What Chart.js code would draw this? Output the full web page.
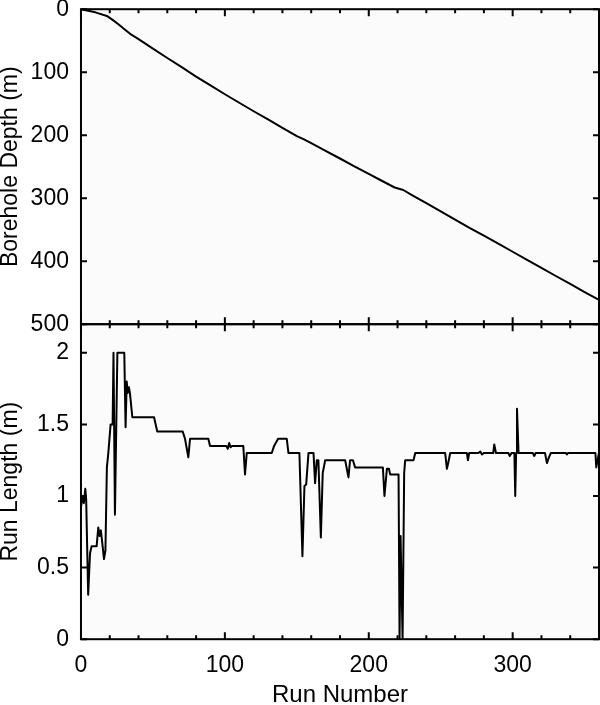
<!DOCTYPE html>
<html>
<head>
<meta charset="utf-8">
<script src="https://cdn.jsdelivr.net/npm/chart.js@4/dist/chart.umd.min.js"></script>
<style>
  html, body { margin: 0; padding: 0; background: #ffffff; }
  canvas { display: block; }
</style>
</head>
<body>
<canvas id="c" width="600" height="705"></canvas>
<script>
// ---- Data ----
// Top panel: borehole depth (m) versus run number
const depthRuns   = [0, 10, 18, 22, 26, 30, 35, 40, 50, 60, 70, 80, 90, 100, 110, 120, 130, 140, 150, 155, 160, 170, 180, 190, 200, 210, 218, 224, 230, 240, 250, 260, 270, 280, 290, 300, 310, 320, 330, 340, 350, 360];
const depthValues = [0, 5, 10.7, 17, 24, 31.5, 40.5, 47.5, 62.5, 77.5, 92, 107, 121, 135, 148.5, 162, 175, 188.5, 201.5, 206.5, 212.5, 225, 237, 249.5, 261.5, 273.5, 283, 287, 295, 308, 321, 334, 347, 359.5, 372, 385, 398, 410.5, 423.5, 436, 449, 461.5];

// Bottom panel: run length (m) versus run number
const lengthRuns = [0, 1, 2, 3, 3.6, 5, 6.3, 7.4, 10.9, 12, 13, 13.8, 14.5, 16, 17, 18, 19, 20.6, 22, 22.6, 23.6, 25.3, 30.1, 31, 31.8, 32.5, 33.3, 34, 35.7, 50.8, 53, 70.7, 72.3, 74.6, 75.8, 88.5, 89.7, 101, 102, 103, 104, 105, 112.8, 114, 115.2, 132.6, 134.2, 137, 143, 144.2, 151.8, 153.9, 155.3, 156.5, 158.1, 161.6, 162.7, 163.9, 165, 166.7, 168, 169.7, 183.6, 185.9, 187, 189, 190.5, 209.8, 210.9, 212.6, 214, 214.9, 220.7, 221.4, 222.1, 223.5, 224.6, 225.3, 231.1, 232.3, 253.1, 254.3, 255.2, 256.6, 268.2, 268.9, 269.8, 276, 277.5, 278.7, 280, 286.5, 287.2, 288.4, 297, 298, 299.2, 301.2, 301.8, 302.4, 303, 304.1, 314, 315, 316, 322.5, 323.8, 325.2, 326.5, 337, 337.7, 338.4, 357.5, 358.1, 359, 360];
const lengthValues = [0.92, 1.0, 0.95, 1.05, 0.98, 0.31, 0.6, 0.65, 0.65, 0.78, 0.72, 0.76, 0.7, 0.56, 0.62, 1.2, 1.3, 1.5, 1.5, 2.0, 0.87, 2.0, 2.0, 1.48, 1.8, 1.72, 1.76, 1.72, 1.55, 1.55, 1.45, 1.45, 1.4, 1.27, 1.4, 1.4, 1.35, 1.35, 1.33, 1.37, 1.34, 1.35, 1.35, 1.15, 1.3, 1.3, 1.35, 1.4, 1.4, 1.3, 1.3, 0.58, 1.07, 1.08, 1.3, 1.3, 1.09, 1.25, 1.25, 0.71, 1.16, 1.25, 1.25, 1.13, 1.25, 1.25, 1.2, 1.2, 1.0, 1.19, 1.19, 1.15, 1.15, 0, 0.72, 0, 1.16, 1.25, 1.25, 1.3, 1.3, 1.19, 1.23, 1.3, 1.3, 1.25, 1.3, 1.3, 1.31, 1.29, 1.3, 1.3, 1.36, 1.3, 1.3, 1.28, 1.3, 1.3, 1.0, 1.3, 1.61, 1.3, 1.3, 1.28, 1.3, 1.3, 1.23, 1.27, 1.3, 1.3, 1.29, 1.3, 1.3, 1.2, 1.25, 1.3];

// Axis settings / labels
const xRange = [0, 360];
const depthRange = [0, 500];
const lengthRange = [0, 2.2];
const xLabelStep = 100;
const xTickStep = 20;
const depthStep = 100;
const lengthStep = 0.5;
const xTitle = 'Run Number';
const depthTitle = 'Borehole Depth (m)';
const lengthTitle = 'Run Length (m)';

// ---- Chart ----
const FONT = 'Liberation Sans, Arial, Helvetica, sans-serif';
const PLOT_BG = '#fbfbfb';

const framePlugin = {
  id: 'frameTicks',
  beforeDraw(chart) {
    const ctx = chart.ctx, a = chart.chartArea;
    ctx.save();
    ctx.fillStyle = PLOT_BG;
    ctx.fillRect(a.left, a.top, a.right - a.left, a.bottom - a.top);
    ctx.restore();
  },
  afterDatasetsDraw(chart) {
    const ctx = chart.ctx, a = chart.chartArea, xs = chart.scales.x;
    ctx.save();
    ctx.strokeStyle = '#000';
    ctx.lineWidth = 2;
    ctx.lineCap = 'butt';
    for (const id of ['yD', 'yL']) {
      const s = chart.scales[id];
      ctx.beginPath();
      for (const t of s.ticks) {
        const py = s.getPixelForValue(t.value);
        ctx.moveTo(a.left, py); ctx.lineTo(a.left + 6, py);
        ctx.moveTo(a.right, py); ctx.lineTo(a.right - 6, py);
      }
      for (const t of xs.ticks) {
        const px = xs.getPixelForValue(t.value);
        const len = (t.value % xLabelStep === 0) ? 7 : 4;
        ctx.moveTo(px, s.top); ctx.lineTo(px, s.top + len);
        ctx.moveTo(px, s.bottom); ctx.lineTo(px, s.bottom - len);
      }
      ctx.stroke();
      ctx.strokeRect(a.left, s.top, a.right - a.left, s.bottom - s.top);
    }
    ctx.restore();
  }
};

const yCommon = {
  type: 'linear',
  position: 'left',
  stack: 'panels',
  stackWeight: 1,
  offset: false,
  border: { display: false },
  grid: { drawOnChartArea: false, drawTicks: true, tickLength: 12, tickColor: 'rgba(0,0,0,0)' },
};
const tickFont = { family: FONT, size: 23, lineHeight: 0.8 };
const yTitleFont = { family: FONT, size: 23, lineHeight: 1.2 };

new Chart(document.getElementById('c'), {
  type: 'line',
  data: {
    datasets: [
      {
        label: 'depth',
        data: depthRuns.map((r, i) => ({ x: r, y: depthValues[i] })),
        xAxisID: 'x', yAxisID: 'yD',
        borderColor: '#000', borderWidth: 2, pointRadius: 0, tension: 0, fill: false,
        borderJoinStyle: 'round'
      },
      {
        label: 'length',
        data: lengthRuns.map((r, i) => ({ x: r, y: lengthValues[i] })),
        xAxisID: 'x', yAxisID: 'yL',
        borderColor: '#000', borderWidth: 2, pointRadius: 0, tension: 0, fill: false,
        borderJoinStyle: 'round'
      }
    ]
  },
  options: {
    responsive: false,
    animation: false,
    events: [],
    layout: { padding: { left: 0, right: 1, top: 0, bottom: 0 } },
    plugins: { legend: { display: false }, tooltip: { enabled: false }, title: { display: false } },
    scales: {
      x: {
        type: 'linear',
        min: xRange[0], max: xRange[1],
        border: { display: false },
        grid: { drawOnChartArea: false, drawTicks: true, tickLength: 13, tickColor: 'rgba(0,0,0,0)' },
        ticks: {
          stepSize: xTickStep, autoSkip: false, maxRotation: 0, padding: 0,
          color: '#000', font: { family: FONT, size: 23, lineHeight: 1.2 },
          callback: (v) => (v % xLabelStep === 0 ? String(v) : '')
        },
        title: { display: true, text: xTitle, color: '#000', font: { family: FONT, size: 24, lineHeight: 0.8 }, padding: { top: 6, bottom: 0 } }
      },
      yL: Object.assign({}, yCommon, {
        min: lengthRange[0], max: lengthRange[1],
        ticks: { stepSize: lengthStep, includeBounds: false, padding: 0, color: '#000', font: tickFont,
                 callback: (v) => String(parseFloat(Number(v).toFixed(2))) },
        title: { display: true, text: lengthTitle, color: '#000', font: yTitleFont, padding: { top: -2.8, bottom: 5.8 } }
      }),
      yD: Object.assign({}, yCommon, {
        min: depthRange[0], max: depthRange[1], reverse: true,
        ticks: { stepSize: depthStep, padding: 0, color: '#000', font: tickFont,
                 callback: (v) => String(v) },
        title: { display: true, text: depthTitle, color: '#000', font: yTitleFont, padding: { top: -2.8, bottom: 5.8 } }
      })
    }
  },
  plugins: [framePlugin]
});
</script>
</body>
</html>
